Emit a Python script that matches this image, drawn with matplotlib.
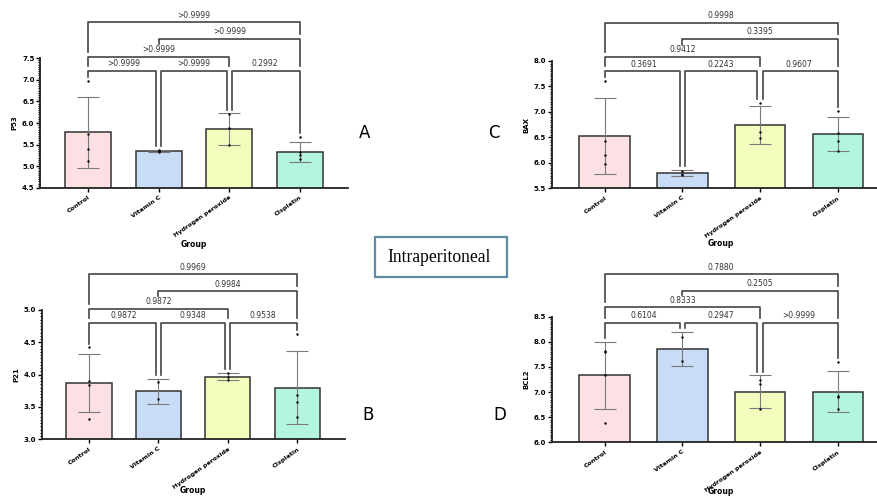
import numpy as np
import matplotlib
matplotlib.use("Agg")
import matplotlib.pyplot as plt
from matplotlib.patches import Rectangle
from matplotlib.ticker import MultipleLocator

groups = ["Control", "Vitamin C", "Hydrogen peroxide", "Cisplatin"]
colors = ["#fde0e3", "#c8dcf6", "#f2fcbd", "#b4f5dd"]

# comparisons, in drawing order (level 1 first)
pairs = [(0, 1), (1, 2), (2, 3), (0, 2), (1, 3), (0, 3)]
pair_level = [0, 0, 0, 1, 2, 3]

# --- P53 (A)
p53_mean = [5.79, 5.35, 5.86, 5.33]
p53_sd = [0.82, 0.03, 0.36, 0.24]
p53_pts = [[6.97, 5.74, 5.39, 5.12], [5.37, 5.35, 5.34], [6.20, 5.88, 5.50],
           [5.68, 5.32, 5.26, 5.16]]
p53_p = [">0.9999", ">0.9999", "0.2992", ">0.9999", ">0.9999", ">0.9999"]

# --- P21 (B)
p21_mean = [3.87, 3.74, 3.97, 3.80]
p21_sd = [0.45, 0.20, 0.06, 0.57]
p21_pts = [[4.42, 3.90, 3.84, 3.31], [3.89, 3.62], [4.02, 3.97, 3.92],
           [4.63, 3.68, 3.57, 3.35]]
p21_p = ["0.9872", "0.9348", "0.9538", "0.9872", "0.9984", "0.9969"]

# --- BAX (C)
bax_mean = [6.53, 5.80, 6.74, 6.56]
bax_sd = [0.74, 0.06, 0.37, 0.33]
bax_pts = [[7.61, 6.43, 6.15, 5.98], [5.84, 5.79, 5.76], [7.17, 6.60, 6.48],
           [7.02, 6.59, 6.42, 6.24]]
bax_p = ["0.3691", "0.2243", "0.9607", "0.9412", "0.3395", "0.9998"]

# --- BCL2 (D)
bcl2_mean = [7.33, 7.86, 7.01, 7.01]
bcl2_sd = [0.67, 0.34, 0.32, 0.41]
bcl2_pts = [[7.82, 7.80, 7.34, 6.39], [8.10, 7.62], [7.23, 7.16, 6.67],
            [7.60, 6.92, 6.90, 6.66]]
bcl2_p = ["0.6104", "0.2947", ">0.9999", "0.8333", "0.2505", "0.7880"]


def draw_panel(ax, name, mean, sd, pts, pvals, ylim, levels, group_y):
    x = np.arange(len(groups))
    ax.bar(x, mean, width=0.65, color=colors, edgecolor="#333333",
           linewidth=1.1, zorder=2)
    ax.errorbar(x, mean, yerr=sd, fmt="none", ecolor="#7a7a7a",
                elinewidth=0.8, capsize=8, capthick=0.8, zorder=3)
    for i, vals in enumerate(pts):
        ax.scatter([i] * len(vals), vals, s=3, color="black", zorder=4,
                   linewidths=0)

    ax.set_xlim(-0.68, 3.68)
    ax.set_ylim(*ylim)
    ax.yaxis.set_major_locator(MultipleLocator(0.5))
    ax.yaxis.set_minor_locator(MultipleLocator(0.05))
    ax.set_xticks(x)
    ax.set_xticklabels(groups, rotation=35, ha="right", rotation_mode="anchor",
                       fontsize=4.6, fontweight="bold")
    for lab in ax.get_yticklabels():
        lab.set_fontweight("bold")
    ax.tick_params(axis="y", labelsize=5, length=3, width=1, pad=1)
    ax.tick_params(axis="y", which="minor", length=1.8, width=0.8)
    ax.tick_params(axis="x", length=3, width=1, pad=2)
    ax.spines[["top", "right"]].set_visible(False)
    ax.spines[["left", "bottom"]].set_linewidth(1.3)
    ax.spines[["left", "bottom"]].set_color("#222222")
    ax.set_ylabel(name, fontsize=5, fontweight="bold", labelpad=3)
    ax.set_xlabel("Group", fontsize=5.5, fontweight="bold")
    ax.xaxis.set_label_coords(0.5, group_y)

    # bracket geometry in axes fraction
    lo, hi = ylim
    def frac(v):
        return (v - lo) / (hi - lo)
    tops = [frac(max(max(p), m + s)) for p, m, s in zip(pts, mean, sd)]
    tr = ax.get_xaxis_transform()
    for (a, b), lvl, txt in zip(pairs, pair_level, pvals):
        yb = levels[lvl]
        ends = []
        for g in (a, b):
            # legs stop above any lower bracket (or its label) under them
            below = []
            for j, (c, d) in enumerate(pairs):
                if pair_level[j] < lvl and c <= g <= d:
                    lv = levels[pair_level[j]]
                    below.append(lv + (0.095 if (c + d) / 2 == g else 0.04))
            bottom = max(below) if below else tops[g] + 0.03
            xoff = 0.0
            if lvl == 0:
                if g == a and g > 0:
                    xoff = 0.035
                if g == b and g < len(groups) - 1:
                    xoff = -0.035
            ends.append((g + xoff, bottom))
        (xa, ba), (xb, bb) = ends
        ax.plot([xa, xa, xb, xb], [ba, yb, yb, bb], color="#444444",
                lw=1.2, transform=tr, clip_on=False, zorder=5)
        ax.text((a + b) / 2, yb + 0.02, txt, transform=tr, ha="center",
                va="bottom", fontsize=5.5, color="#333333")


fig = plt.figure(figsize=(8.78, 4.96), dpi=100)
axA = fig.add_axes([0.0456, 0.621, 0.351, 0.262])
axB = fig.add_axes([0.0475, 0.1143, 0.345, 0.2607])
axC = fig.add_axes([0.6284, 0.6204, 0.386, 0.2567])
axD = fig.add_axes([0.6284, 0.1083, 0.386, 0.2532])

lv_ab = [0.90, 1.01, 1.146, 1.275]
lv_c = [0.92, 1.034, 1.173, 1.30]
lv_d = [0.952, 1.075, 1.206, 1.337]
draw_panel(axA, "P53", p53_mean, p53_sd, p53_pts, p53_p, (4.5, 7.5), lv_ab, -0.40)
draw_panel(axB, "P21", p21_mean, p21_sd, p21_pts, p21_p, (3.0, 5.0), lv_ab, -0.36)
draw_panel(axC, "BAX", bax_mean, bax_sd, bax_pts, bax_p, (5.5, 8.0), lv_c, -0.40)
draw_panel(axD, "BCL2", bcl2_mean, bcl2_sd, bcl2_pts, bcl2_p, (6.0, 8.5), lv_d, -0.36)

for letter, xpos, ypos in [("A", 365, 133), ("B", 368, 415),
                           ("C", 494, 133), ("D", 500, 415)]:
    fig.text(xpos / 878, 1 - ypos / 496, letter, fontsize=12,
             ha="center", va="center", family="DejaVu Sans")

fig.patches.append(Rectangle((375 / 878, 1 - 277 / 496), 132 / 878, 40 / 496,
                             transform=fig.transFigure, facecolor="white",
                             edgecolor="#5f8aa3", linewidth=1.6))
fig.text(439 / 878, 1 - 257 / 496, "Intraperitoneal", family="Liberation Serif",
         fontsize=12.7, ha="center", va="center")

fig.savefig("out.png", dpi=100)
